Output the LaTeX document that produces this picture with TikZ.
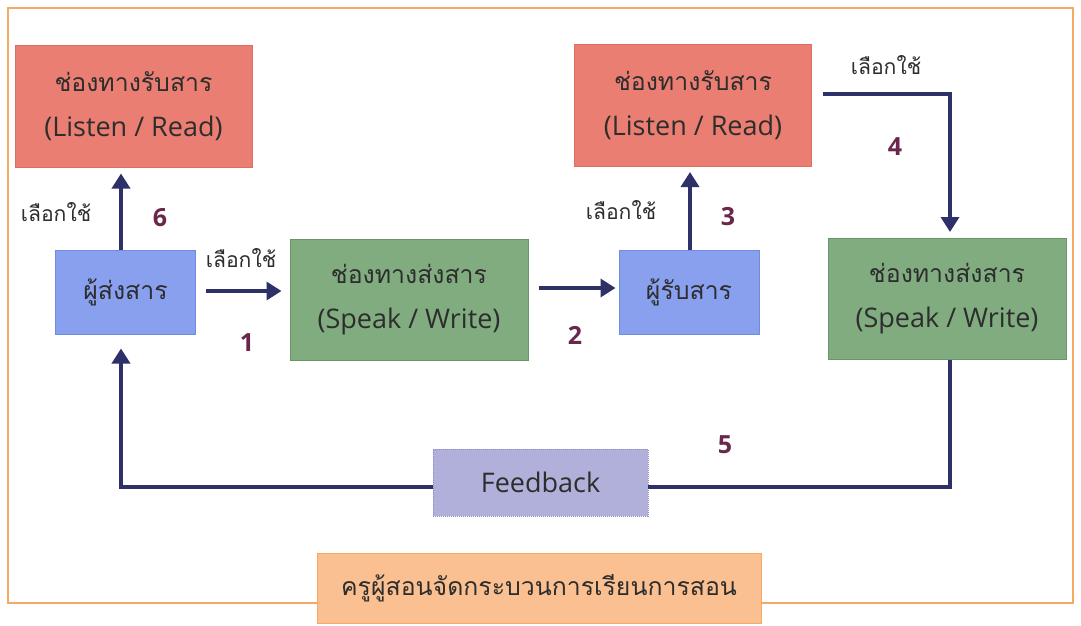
\documentclass[tikz,border=0pt]{standalone}
\usepackage{fontspec}
\setmainfont{Open Sans}
\newfontfamily\thai[Script=Thai, Scale=0.92]{Loma}
\usetikzlibrary{arrows.meta}
\definecolor{redfill}{RGB}{234,126,114}
\definecolor{reddraw}{RGB}{222,110,95}
\definecolor{greenfill}{RGB}{128,172,128}
\definecolor{greendraw}{RGB}{105,150,105}
\definecolor{bluefill}{RGB}{136,160,238}
\definecolor{bluedraw}{RGB}{110,140,225}
\definecolor{fbfill}{RGB}{176,176,218}
\definecolor{fbdraw}{RGB}{140,140,190}
\definecolor{orfill}{RGB}{250,192,145}
\definecolor{ordraw}{RGB}{245,170,100}
\definecolor{navy}{RGB}{45,48,105}
\definecolor{numcol}{RGB}{105,40,75}
\definecolor{txt}{RGB}{45,45,45}
\tikzset{
  x=1pt, y=-1pt,
  box/.style={draw, line width=1pt, inner sep=0pt, align=center, text=txt, font=\fontsize{27}{45}\selectfont},
  redbox/.style={box, fill=redfill, draw=reddraw, minimum width=237pt, minimum height=122pt},
  greenbox/.style={box, fill=greenfill, draw=greendraw, minimum width=238pt, minimum height=121pt},
  bluebox/.style={box, fill=bluefill, draw=bluedraw, minimum width=140pt, minimum height=84pt},
  arr/.style={draw=navy, line width=3.5pt, -{Triangle[length=15pt,width=18pt]}},
  ln/.style={draw=navy, line width=3.5pt},
  num/.style={text=numcol, font=\fontsize{25}{27}\selectfont\bfseries},
  lbl/.style={text=txt, font=\thai\fontsize{23}{25}\selectfont},
}
\begin{document}
\begin{tikzpicture}
\useasboundingbox (0,0) rectangle (1081,625);
\fill[white] (0,0) rectangle (1081,625);
\draw[ordraw, line width=1.5pt] (8,8) rectangle (1073,603);

\node[redbox] (red1) at (133.5,106) {{\thai ช่องทางรับสาร}\\(Listen / Read)};
\node[redbox] (red2) at (693,105.5) {{\thai ช่องทางรับสาร}\\(Listen / Read)};
\node[bluebox] (blue1) at (125.5,292) {\thai ผู้ส่งสาร};
\node[bluebox] (blue2) at (689,292) {\thai ผู้รับสาร};
\node[greenbox] (green1) at (409,299.5) {{\thai ช่องทางส่งสาร}\\(Speak / Write)};
\node[greenbox] (green2) at (947,299) {{\thai ช่องทางส่งสาร}\\(Speak / Write)};
\node[box, fill=fbfill, draw=fbdraw, densely dotted, line width=0.8pt, minimum width=215pt, minimum height=67pt] (fb) at (540.5,482.5) {Feedback};
\node[box, fill=orfill, draw=ordraw, minimum width=444pt, minimum height=70pt] (teach) at (539,588) {\thai ครูผู้สอนจัดกระบวนการเรียนการสอน};

\coordinate (c6) at (121,0);
\coordinate (c3) at (690,0);
\coordinate (c4) at (950,94);
\coordinate (c5) at (950,487);
\coordinate (cfb) at (121,487);

% arrow 6
\draw[arr, shorten >=6pt] (blue1.north -| c6) -- (red1.south -| c6);
% arrow 1
\draw[arr, shorten <=10pt, shorten >=8pt] (blue1.east |- 0,291) -- (green1.west |- 0,291);
% arrow 2
\draw[arr, shorten <=10pt, shorten >=3pt] (green1.east |- 0,288) -- (blue2.west |- 0,288);
% arrow 3
\draw[arr, shorten >=5pt] (blue2.north -| c3) -- (red2.south -| c3);
% arrow 4
\draw[arr, shorten >=6pt] ([xshift=11pt]red2.east |- c4) -- (c4) -- (green2.north -| c4);
% feedback
\draw[ln] (green2.south -| c5) -- (c5) -- (fb.east |- c5);
\draw[arr, shorten >=14pt] (fb.west |- cfb) -- (cfb) -- (blue1.south -| cfb);

% labels
\node[lbl] (l6) at (56,212) {เลือกใช้};
\node[lbl] (l1) at (241,258) {เลือกใช้};
\node[lbl] (l3) at (621,210) {เลือกใช้};
\node[lbl] (l4) at (886,65) {เลือกใช้};

\node[num] (n6) at (160,218) {6};
\node[num] (n1) at (247,343) {1};
\node[num] (n2) at (575,335) {2};
\node[num] (n3) at (728,217) {3};
\node[num] (n4) at (895,147) {4};
\node[num] (n5) at (725,445) {5};
\end{tikzpicture}
\end{document}
